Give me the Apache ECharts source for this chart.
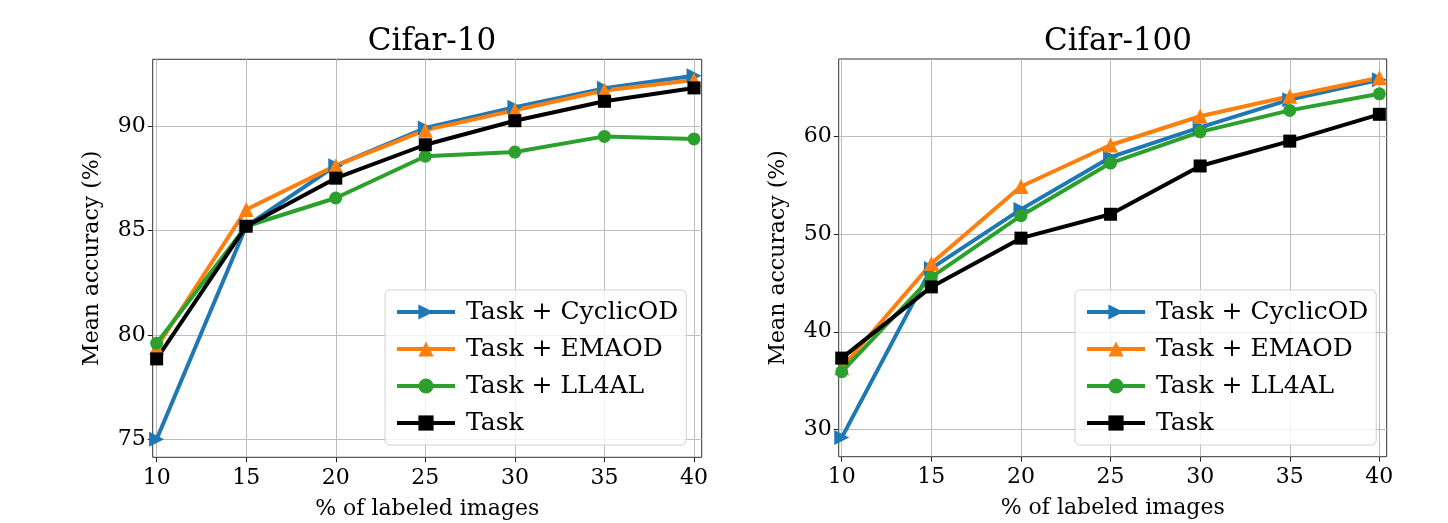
<!DOCTYPE html>
<html>
<head>
    <meta charset="utf-8">
    <title>Cifar</title>
    <script src="https://cdn.jsdelivr.net/npm/echarts@6/dist/echarts.min.js"></script>
    <style>
        html, body { margin: 0; padding: 0; background: #fff; }
        #main { width: 1448px; height: 523px; }
    </style>
</head>
<body>
    <div id="main"></div>
    <script type="text/javascript">
    // % of labeled images
    var xTicks = [10, 15, 20, 25, 30, 35, 40];
    var names = ['Task + CyclicOD', 'Task + EMAOD', 'Task + LL4AL', 'Task'];

    // Cifar-10
    var c10Cyclic = [75.0, 85.2, 88.1, 89.9, 90.9, 91.8, 92.4];
    var c10Emaod  = [79.4, 86.0, 88.1, 89.8, 90.75, 91.7, 92.2];
    var c10Ll4al  = [79.6, 85.2, 86.55, 88.55, 88.75, 89.5, 89.38];
    var c10Task   = [78.85, 85.2, 87.5, 89.1, 90.25, 91.18, 91.82];

    // Cifar-100
    var c100Cyclic = [29.15, 46.5, 52.55, 57.9, 60.95, 63.8, 65.85];
    var c100Emaod  = [36.3, 47.0, 54.9, 59.15, 62.1, 64.15, 66.05];
    var c100Ll4al  = [35.9, 45.6, 51.9, 57.3, 60.5, 62.7, 64.4];
    var c100Task   = [37.3, 44.6, 49.6, 52.05, 57.0, 59.55, 62.3];

    var yTicks10 = [75, 80, 85, 90];
    var yTicks100 = [30, 40, 50, 60];

    var font = 'DejaVu Serif';
    var colors = ['#1f77b4', '#ff7f0e', '#2ca02c', '#000000'];
    var symbols = ['triangle', 'triangle', 'circle', 'rect'];
    var rotates = [-90, 0, 0, 0];
    var sizes = [15, 15, 13, 13];

    var pairs = function(ys){
        return ys.map(function(y, i){ return [xTicks[i], y]; });
    };

    var makeSeries = function(idx, ys, name){
        var k = names.indexOf(name);
        return {
            type: 'line',
            name: name,
            xAxisIndex: idx,
            yAxisIndex: idx,
            data: pairs(ys),
            symbol: symbols[k],
            symbolRotate: rotates[k],
            symbolSize: sizes[k],
            showAllSymbol: true,
            color: colors[k],
            lineStyle: { width: 4, color: colors[k] },
            itemStyle: { color: colors[k] },
            emphasis: { disabled: true },
            animation: false
        };
    };

    var makeX = function(idx){
        return {
            type: 'value', gridIndex: idx,
            min: idx === 0 ? 9.78 : 9.83, max: idx === 0 ? 40.43 : 40.41,
            minInterval: 5, maxInterval: 5,
            name: '% of labeled images', nameLocation: 'middle', nameGap: 41,
            nameTextStyle: { fontFamily: font, fontSize: 22, color: '#000' },
            axisLine: { show: false },
            axisTick: { show: true, inside: false, length: 5, customValues: xTicks,
                        lineStyle: { color: '#222', width: 1 } },
            axisLabel: { fontFamily: font, fontSize: 22, color: '#000', margin: 10,
                         customValues: xTicks },
            splitLine: { show: true, lineStyle: { color: '#bdbdbd', width: 1 } }
        };
    };

    var makeY = function(idx, lo, hi, step, ticks){
        return {
            type: 'value', gridIndex: idx,
            min: lo, max: hi,
            minInterval: step, maxInterval: step,
            name: 'Mean accuracy (%)', nameLocation: 'middle', nameGap: 49,
            nameTextStyle: { fontFamily: font, fontSize: 22, color: '#000' },
            axisLine: { show: false },
            axisTick: { show: true, inside: false, length: 5, customValues: ticks,
                        lineStyle: { color: '#222', width: 1 } },
            axisLabel: { fontFamily: font, fontSize: 22, color: '#000', margin: 7,
                         customValues: ticks },
            splitLine: { show: true, lineStyle: { color: '#bdbdbd', width: 1 } }
        };
    };

    var makeLegend = function(left, seriesNames){
        return {
            orient: 'vertical',
            left: left, top: 290,
            data: seriesNames,
            itemWidth: 58, itemHeight: 19, itemGap: 9,
            padding: [8, 8, 8, 10],
            backgroundColor: 'rgba(255,255,255,0.8)',
            borderColor: '#d0d0d0', borderWidth: 1, borderRadius: 5,
            selectedMode: false,
            lineStyle: { width: 4 },
            textStyle: { fontFamily: font, fontSize: 25, color: '#000', lineHeight: 28,
                         padding: [0, 0, 0, 6] }
        };
    };

    var chart = echarts.init(document.getElementById('main'), null, { renderer: 'canvas' });
    var option = {
        animation: false,
        backgroundColor: '#fff',
        title: [
            { text: 'Cifar-10', left: 427, top: 21, textAlign: 'center',
              textStyle: { fontFamily: font, fontSize: 31, fontWeight: 'normal', color: '#000' } },
            { text: 'Cifar-100', left: 1113, top: 21, textAlign: 'center',
              textStyle: { fontFamily: font, fontSize: 31, fontWeight: 'normal', color: '#000' } }
        ],
        grid: [
            { left: 152.7, top: 59.3, width: 549, height: 398, show: true,
              borderColor: '#333', borderWidth: 1, backgroundColor: 'transparent',
              containLabel: false, outerBoundsMode: 'none' },
            { left: 838.7, top: 59, width: 548, height: 397.7, show: true,
              borderColor: '#333', borderWidth: 1, backgroundColor: 'transparent',
              containLabel: false, outerBoundsMode: 'none' }
        ],
        xAxis: [makeX(0), makeX(1)],
        yAxis: [makeY(0, 74.14, 93.19, 5, yTicks10), makeY(1, 27.19, 67.97, 10, yTicks100)],
        legend: [makeLegend(385, names), makeLegend(1075, names)],
        series: [
            makeSeries(0, c10Cyclic, names[0]),
            makeSeries(0, c10Emaod, names[1]),
            makeSeries(0, c10Ll4al, names[2]),
            makeSeries(0, c10Task, names[3]),
            makeSeries(1, c100Cyclic, names[0]),
            makeSeries(1, c100Emaod, names[1]),
            makeSeries(1, c100Ll4al, names[2]),
            makeSeries(1, c100Task, names[3])
        ]
    };
    chart.setOption(option);
    </script>
</body>
</html>
